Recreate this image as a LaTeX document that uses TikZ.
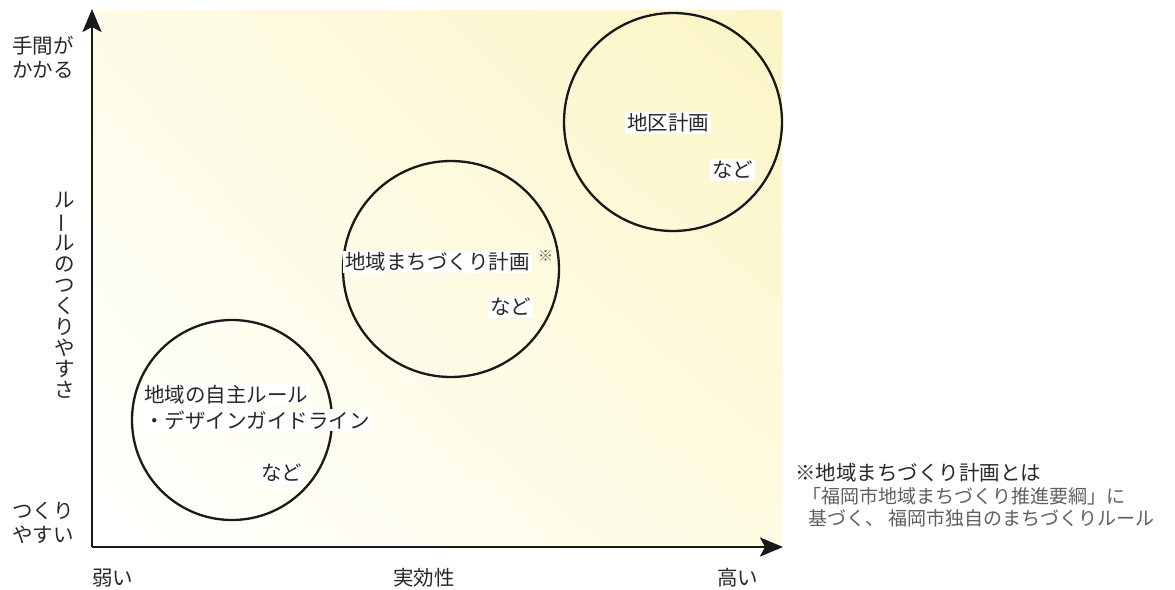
\documentclass[tikz,border=0pt]{standalone}
\usepackage{fontspec}
\usepackage{graphicx}
\setmainfont{Noto Sans CJK JP}
\usetikzlibrary{arrows.meta,shadings}
\definecolor{ylw}{RGB}{251,245,196}
\definecolor{ylwA}{RGB}{254,252,232}
\definecolor{ylwB}{RGB}{254,251,226}
\definecolor{txt}{RGB}{40,40,40}
\definecolor{note}{RGB}{95,95,95}
\tikzset{
  lbl/.style={inner sep=0pt, text=txt, font=\fontsize{20.5}{24}\selectfont},
  wlbl/.style={lbl, fill=white, inner sep=2pt},
  ring/.style={circle, draw=black!90, line width=2.3pt, inner sep=0pt},
  axis/.style={line width=2.8pt, draw=black!90, -{Stealth[length=23pt,width=19pt,inset=5pt]}},
  notetxt/.style={inner sep=0pt, text=note, font=\fontsize{19}{22}\selectfont}
}
\begin{document}
\begin{tikzpicture}[x=1pt,y=-1pt]
\useasboundingbox (0,0) rectangle (1175,589);
\fill[white] (0,0) rectangle (1175,589);
\shade[upper left=ylwA, upper right=ylw, lower left=white, lower right=ylwB] (92,10) rectangle (782,547);
% circles
\node[ring, minimum size=200pt] (c1) at (232,420) {};
\node[ring, minimum size=216pt] (c2) at (451,269) {};
\node[ring, minimum size=218pt] (c3) at (673,122) {};
% axes
\coordinate (o) at (92,547);
\coordinate (ytop) at (92,9);
\coordinate (xend) at (783,547);
\draw[axis] (o) -- (ytop);
\draw[axis] (o) -- (xend);
% y labels
\node[lbl, anchor=west, align=left] (hi) at (12,57) {手間が\\かかる};
\node[lbl, anchor=west, align=left] (lo) at (12,523) {つくり\\やすい};
\node[lbl, align=center, font=\fontsize{20.5}{21}\selectfont] (yl) at (65,295)
  {ル\\\rotatebox[origin=c]{90}{ー}\\ル\\の\\つ\\く\\り\\や\\す\\さ};
% x labels
\node[lbl, anchor=west] (weak) at (92,578) {弱い};
\node[lbl, anchor=west] (eff) at (393,578) {実効性};
\node[lbl, anchor=west] (high) at (717,578) {高い};
% circle texts
\node[wlbl, anchor=west] (t1a) at (142,395) {地域の自主ルール};
\node[wlbl, anchor=west] (t1b) at (142,420) {・デザインガイドライン};
\node[wlbl, anchor=west] (t1c) at (259,473) {など};
\node[wlbl, anchor=west] (t2a) at (343,262) {地域まちづくり計画};
\node[inner sep=0pt, text=note, font=\fontsize{15}{17}\selectfont, anchor=west] (t2s) at (538,256) {※};
\node[wlbl, anchor=west] (t2c) at (488,307) {など};
\node[wlbl, anchor=west] (t3a) at (625,123) {地区計画};
\node[wlbl, anchor=west] (t3c) at (710,170) {など};
% note
\node[inner sep=0pt, text=txt, font=\fontsize{20.5}{24}\selectfont, anchor=west] (n1) at (795,473) {※地域まちづくり計画とは};
\node[notetxt, anchor=west] (n2) at (802,496) {「福岡市地域まちづくり推進要綱」に};
\node[notetxt, anchor=west] (n3) at (808,518) {基づく、 福岡市独自のまちづくりルール};
\end{tikzpicture}
\end{document}
